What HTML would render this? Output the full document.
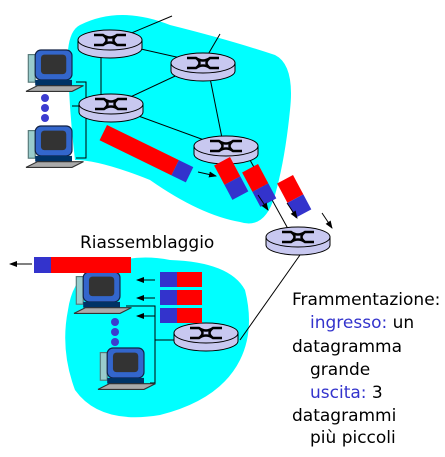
<!DOCTYPE html>
<html><head><meta charset="utf-8"><style>body{margin:0;background:#fff}svg{display:block}text{font-family:"DejaVu Sans","Liberation Sans",sans-serif}</style></head><body>
<svg width="445" height="457" viewBox="0 0 445 457" xmlns="http://www.w3.org/2000/svg">
<defs>
<marker id="ah" markerWidth="8" markerHeight="8" refX="7" refY="4" orient="auto" markerUnits="userSpaceOnUse"><path d="M0,1 L8,4 L0,7z" fill="#000"/></marker>
<g id="rt"><path d="M-32,0 v8 a32,10 0 0 0 64,0 v-8z" fill="#c8c8f0" stroke="#000" stroke-width="1"/><ellipse cx="0" cy="0" rx="32" ry="10" fill="#c8c8f0" stroke="#000"/><path d="M-16,-5 h9 q7,5 14,0 h9 M-16,5 h9 q7,-5 14,0 h9 M-7,-5 q7,5 0,10 M7,-5 q-7,5 0,10" stroke="#000" stroke-width="2.5" fill="none"/></g>
<g id="pc"><rect x="2" y="4" width="6" height="24" fill="#9cc" stroke="#577"/><rect x="8" y="0" width="32" height="26" rx="5" fill="#36c" stroke="#124"/><rect x="13" y="4" width="22" height="17" rx="3" fill="#333"/><rect x="8" y="26" width="32" height="5" fill="#036"/><path d="M0,36 l10,-5 h40 l-10,5z" fill="#aaa" stroke="#333"/></g>
</defs>
<path d="M80,25 Q120,5 170,25 Q230,40 275,55 Q295,65 290,110 Q285,160 275,195 Q265,230 240,222 Q200,215 150,180 Q100,160 75,160 Q68,100 68,50 Q70,30 80,25z" fill="#00ffff"/>
<path d="M90,270 Q130,252 170,260 Q230,262 245,290 Q255,330 240,360 Q220,400 160,415 Q100,425 75,390 Q60,350 68,310 Q72,282 90,270z" fill="#00ffff"/>
<g stroke="#000" stroke-width="1" fill="none">
<line x1="110" y1="42" x2="172" y2="16"/><line x1="203" y1="63" x2="220" y2="34"/>
<line x1="110" y1="42" x2="203" y2="63"/><line x1="101" y1="42" x2="101" y2="106"/>
<line x1="111" y1="106" x2="203" y2="63"/><line x1="207" y1="63" x2="224" y2="148"/>
<line x1="111" y1="106" x2="226" y2="148"/>
<line x1="250" y1="160" x2="292" y2="236"/><line x1="300" y1="255" x2="240" y2="340"/>
<polyline points="76,82 86,82 86,158 76,158"/><line x1="72" y1="106" x2="86" y2="106"/>
<polyline points="126,306 155,306 155,383 150,383"/><line x1="155" y1="340" x2="175" y2="340"/>
</g>
<use href="#rt" x="110" y="40"/><use href="#rt" x="203" y="63"/><use href="#rt" x="111" y="104"/><use href="#rt" x="226" y="146"/><use href="#rt" x="298" y="237"/><use href="#rt" x="206" y="333"/>
<g transform="translate(26,50) scale(1.15)"><use href="#pc"/></g><g transform="translate(26,126) scale(1.15)"><use href="#pc"/></g><g transform="translate(74,272) scale(1.15)"><use href="#pc"/></g><g transform="translate(98,348) scale(1.15)"><use href="#pc"/></g>
<g fill="#3c3cd0"><circle cx="45" cy="98" r="4"/><circle cx="45" cy="108" r="4"/><circle cx="45" cy="118" r="4"/><circle cx="115" cy="322" r="4"/><circle cx="115" cy="332" r="4"/><circle cx="115" cy="342" r="4"/></g>
<g transform="translate(107,125) rotate(26)"><rect width="80" height="17" fill="#f00"/><rect x="80" width="16" height="17" fill="#33c"/></g>
<g transform="translate(230,157) rotate(62)"><rect width="22" height="18" fill="#f00"/><rect x="22" width="17" height="18" fill="#33c"/></g>
<g transform="translate(258,164) rotate(62)"><rect width="22" height="18" fill="#f00"/><rect x="22" width="17" height="18" fill="#33c"/></g>
<g transform="translate(293,175) rotate(62)"><rect width="22" height="18" fill="#f00"/><rect x="22" width="17" height="18" fill="#33c"/></g>
<g stroke="#000" stroke-width="1" marker-end="url(#ah)">
<line x1="198" y1="172" x2="216" y2="176"/><line x1="258" y1="195" x2="268" y2="210"/><line x1="287" y1="203" x2="297" y2="218"/><line x1="322" y1="213" x2="332" y2="228"/>
<line x1="32" y1="264" x2="10" y2="264"/><line x1="155" y1="280" x2="137" y2="280"/><line x1="155" y1="298" x2="137" y2="298"/><line x1="155" y1="316" x2="137" y2="316"/>
</g>
<rect x="34" y="257" width="17" height="16" fill="#33c"/><rect x="51" y="257" width="80" height="16" fill="#f00"/>
<g><rect x="160" y="272" width="17" height="15" fill="#33c"/><rect x="177" y="272" width="25" height="15" fill="#f00"/><rect x="160" y="290" width="17" height="15" fill="#33c"/><rect x="177" y="290" width="25" height="15" fill="#f00"/><rect x="160" y="308" width="17" height="15" fill="#33c"/><rect x="177" y="308" width="25" height="15" fill="#f00"/></g>
<text x="80" y="248" font-size="17">Riassemblaggio</text>
<g font-size="17"><text x="292" y="305">Frammentazione:</text>
<text x="310" y="328"><tspan fill="#3333cc">ingresso:</tspan> un</text>
<text x="292" y="352">datagramma</text><text x="310" y="375">grande</text>
<text x="310" y="398"><tspan fill="#3333cc">uscita:</tspan> 3</text>
<text x="292" y="421">datagrammi</text><text x="310" y="443">più piccoli</text></g>
</svg>
</body></html>
